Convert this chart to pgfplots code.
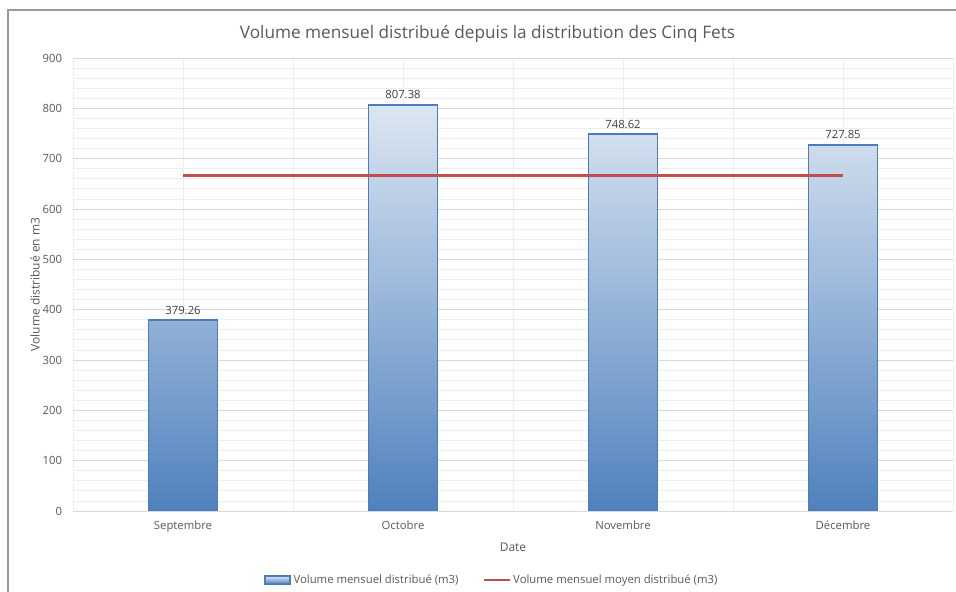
\documentclass[border=0pt]{standalone}
\usepackage{pgfplots}
\pgfplotsset{compat=1.18}
\usepackage{fontspec}
\setmainfont{Open Sans}
\definecolor{txt}{HTML}{595959}
\definecolor{lbl}{HTML}{404040}
\definecolor{gridc}{HTML}{D9D9D9}
\definecolor{gridm}{HTML}{EEEEEE}
\definecolor{bartop}{HTML}{DCE6F2}
\definecolor{barmid}{HTML}{B4C6E0}
\definecolor{barbot}{HTML}{4F81BD}
\definecolor{baredge}{HTML}{4A7EBB}
\definecolor{avgred}{HTML}{C0504D}
\begin{document}
\begin{tikzpicture}
\useasboundingbox (-54.75pt,-60.75pt) rectangle (662.25pt,383.25pt);
\draw[color=gray!80, line width=1pt] (-48.75pt,-60.75pt) -- (-48.75pt,375.75pt) -- (662.25pt,375.75pt);
\begin{axis}[
  at={(0pt,0pt)}, anchor=south west,
  scale only axis, width=660pt, height=339.75pt,
  xmin=-0.5, xmax=3.5, ymin=0, ymax=900,
  ytick={0,100,...,900}, minor y tick num=4,
  xtick={0,1,2,3},
  xticklabels={Septembre,Octobre,Novembre,Décembre},
  minor xtick={-0.5,0.5,1.5,2.5,3.5},
  grid=both,
  minor y grid style={color=gridm, line width=0.6pt},
  major y grid style={color=gridc, line width=0.6pt},
  minor x grid style={color=gridm, line width=0.6pt},
  major x grid style={color=gridm, line width=0.6pt},
  axis line style={draw=none},
  major tick style={draw=none}, minor tick style={draw=none},
  tick label style={font=\fontsize{8.5pt}{10pt}\selectfont, text=txt},
  yticklabel style={anchor=east, inner sep=0pt, xshift=-8pt},
  xticklabel style={anchor=north, inner sep=0pt, yshift=-7.5pt},
  /pgf/number format/assume math mode=true,
  title={Volume mensuel distribué depuis la distribution des Cinq Fets},
  title style={at={([yshift=12pt]axis description cs:0.471,1)}, anchor=center, font=\fontsize{12.9pt}{15pt}\selectfont, text=txt},
  xlabel={Date},
  xlabel style={at={([yshift=-27pt]axis description cs:0.5,0)}, anchor=center, font=\fontsize{9pt}{11pt}\selectfont, text=txt},
  ylabel={Volume distribué en m3},
  ylabel style={at={([xshift=-28.5pt]axis description cs:0,0.5)}, anchor=center, font=\fontsize{9pt}{11pt}\selectfont, text=txt},
  legend style={at={([yshift=-51.75pt]axis description cs:0.476,0)}, anchor=center, draw=none, fill=none,
    legend columns=2, font=\fontsize{8.5pt}{10pt}\selectfont, text=txt,
    /tikz/every even column/.append style={column sep=16.5pt}},
  legend cell align=left,
]
\addplot[ybar, bar width=51.75pt, draw=none,
  top color=bartop, middle color=barmid, bottom color=barbot,
  postaction={draw=baredge, line width=1.4pt},
  legend image code/.code={\draw[draw=baredge, line width=0.8pt, top color=bartop, bottom color=barbot] (0pt,-3pt) rectangle (19pt,3pt);},
  nodes near coords={\pgfmathprintnumber[fixed, precision=2, fixed zerofill, 1000 sep={}, assume math mode=true]{\pgfplotspointmeta}},
  every node near coord/.append style={font=\fontsize{8.5pt}{10pt}\selectfont, text=lbl, inner sep=0pt, yshift=4pt}
] coordinates {(0,379.26) (1,807.38) (2,748.62) (3,727.85)};
\addlegendentry{Volume mensuel distribué (m3)}
\addplot[sharp plot, color=avgred, line width=2.2pt, mark=none,
  legend image code/.code={\draw[avgred, line width=1.5pt] (0pt,0pt) -- (19pt,0pt);}]
  coordinates {(0,665.78) (1,665.78) (2,665.78) (3,665.78)};
\addlegendentry{Volume mensuel moyen distribué (m3)}
\end{axis}
\end{tikzpicture}
\end{document}
